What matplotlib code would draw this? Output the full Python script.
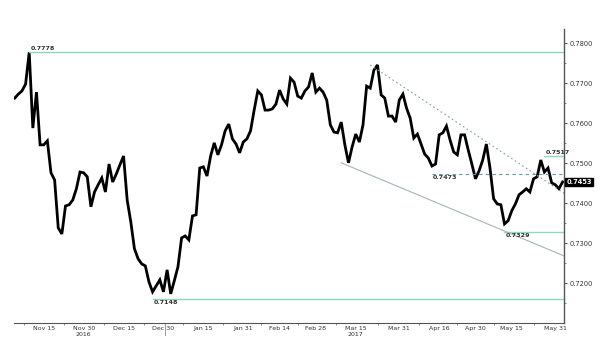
import matplotlib
matplotlib.use("Agg")
import matplotlib.pyplot as plt
import numpy as np
import pandas as pd

# daily closes, by month
nov = [0.7663, 0.7673, 0.7681, 0.7698, 0.7778, 0.7588, 0.7678, 0.7546, 0.7546, 0.7556,
       0.7476, 0.7458, 0.7338, 0.7323, 0.7393, 0.7396, 0.7408, 0.7436, 0.7478, 0.7476]
dec = [0.7466, 0.7391, 0.7428, 0.7446, 0.7463, 0.7428, 0.7498, 0.7453, 0.7473, 0.7496,
       0.7518, 0.7408, 0.7353, 0.7286, 0.7261, 0.7248, 0.7243, 0.7203, 0.7178, 0.7193,
       0.7208, 0.7178]
jan = [0.7233, 0.7173, 0.7206, 0.7241, 0.7313, 0.7318, 0.7308, 0.7368, 0.7371, 0.7488,
       0.7491, 0.7468, 0.7518, 0.7551, 0.7521, 0.7546, 0.7581, 0.7598, 0.7561, 0.7548,
       0.7526, 0.7553]
feb = [0.7561, 0.7581, 0.7633, 0.7681, 0.7671, 0.7633, 0.7633, 0.7636, 0.7648, 0.7683,
       0.7661, 0.7648, 0.7713, 0.7703, 0.7668, 0.7663, 0.7681, 0.7691, 0.7726, 0.7678]
mar = [0.7688, 0.7678, 0.7658, 0.7596, 0.7578, 0.7576, 0.7603, 0.7546, 0.7501, 0.7541,
       0.7573, 0.7553, 0.7596, 0.7693, 0.7688, 0.7733, 0.7746, 0.7671, 0.7663, 0.7618,
       0.7618, 0.7603, 0.7658]
apr = [0.7673, 0.7638, 0.7613, 0.7563, 0.7573, 0.7548, 0.7523, 0.7513, 0.7493, 0.7498,
       0.7571, 0.7576, 0.7593, 0.7558, 0.7528, 0.7521, 0.7571, 0.7571, 0.7533, 0.7498]
may = [0.7461, 0.7481, 0.7508, 0.7548, 0.7488, 0.7411, 0.7398, 0.7396, 0.7348, 0.7356,
       0.7381, 0.7398, 0.7421, 0.7428, 0.7436, 0.7428, 0.7461, 0.7466, 0.7508, 0.7478,
       0.7488, 0.7451, 0.7446]
jun = [0.7436, 0.7453]

closes = nov + dec + jan + feb + mar + apr + may + jun
dates = pd.bdate_range("2016-11-03", periods=len(closes))

tick_dates = ["2016-11-15", "2016-11-30", "2016-12-15", "2016-12-30", "2017-01-15",
              "2017-01-31", "2017-02-14", "2017-02-28", "2017-03-15", "2017-03-31",
              "2017-04-16", "2017-04-30", "2017-05-15", "2017-05-31"]
tick_labels = ["Nov 15", "Nov 30\n2016", "Dec 15", "Dec 30", "Jan 15", "Jan 31", "Feb 14",
               "Feb 28", "Mar 15\n2017", "Mar 31", "Apr 16", "Apr 30", "May 15", "May 31"]

# levels marked on the chart
levels = {"high": ("2016-11-09", 0.7778), "low": ("2016-12-27", 0.7160),
          "mid": ("2017-04-13", 0.7473), "top": ("2017-05-26", 0.7517),
          "bottom": ("2017-05-11", 0.7329)}
level_text = {"high": "0.7778", "low": "0.7148", "mid": "0.7473", "top": "0.7517", "bottom": "0.7329"}
upper_trend = [("2017-03-21", 0.7746), ("2017-06-02", 0.7425)]
lower_trend = [("2017-03-09", 0.7501), ("2017-06-02", 0.7268)]
last_price = 0.7453

green = "#8fd8bb"

def pos(d):
    # business-day index of a date (fractional not needed)
    return float(np.searchsorted(dates, pd.Timestamp(d)))

x = np.arange(len(closes))

fig = plt.figure(figsize=(6, 3.52), dpi=100)
ax = fig.add_axes([0.0233, 0.0824, 0.9167, 0.8352])

ax.plot(x, closes, color="black", lw=2.0, solid_joinstyle="miter")

xmax = len(closes) - 0.6
for k, (d, v) in levels.items():
    xs = pos(d)
    if k == "mid":
        ax.plot([xs, xmax], [v, v], color="#5f9e94", lw=0.8, ls=(0, (3, 3)))
    else:
        ax.plot([xs, xmax], [v, v], color=green, lw=1.0)
    above = k in ("high", "top")
    ax.text(xs + 0.3, v + (0.0003 if above else -0.0003), level_text[k], fontsize=4.6,
            fontweight="bold", color="#333333", ha="left", va="bottom" if above else "top")

(d0, v0), (d1, v1) = upper_trend
ax.plot([pos(d0), pos(d1) + 0.4], [v0, v1], color="#8a9c9c", lw=0.8, ls=(0, (1.5, 2.5)))
(d0, v0), (d1, v1) = lower_trend
ax.plot([pos(d0), pos(d1) + 0.4], [v0, v1], color="#a5b4bb", lw=0.8)

ax.set_xlim(-0.2, xmax)
ax.set_ylim(0.7100, 0.7836)

# y axis on the right
ax.yaxis.tick_right()
ax.set_yticks([0.72, 0.73, 0.74, 0.75, 0.76, 0.77, 0.78])
ax.set_yticklabels(["0.7200", "0.7300", "0.7400", "0.7500", "0.7600", "0.7700", "0.7800"])
ax.set_yticks(np.arange(0.7150, 0.7836, 0.01), minor=True)
ax.tick_params(axis="y", which="major", direction="out", length=2.5, width=0.6,
               labelsize=4.8, pad=1.5, colors="#333333")
ax.tick_params(axis="y", which="minor", direction="out", length=1.5, width=0.5, colors="#555555")

# x axis: labels at dates, marks between them
lab_pos = [pos(d) for d in tick_dates]
ax.set_xticks(lab_pos)
ax.set_xticklabels(tick_labels)
ax.tick_params(axis="x", which="major", length=0, labelsize=4.5, pad=2.5, colors="#333333")
lab_pos = np.array(lab_pos)
marks = list((lab_pos[:-1] + lab_pos[1:]) / 2)
marks = [lab_pos[0] - (lab_pos[1] - lab_pos[0]) / 2] + marks
ax.set_xticks(marks, minor=True)
ax.tick_params(axis="x", which="minor", direction="out", length=1.5, width=0.5, colors="#555555")
year_x = pos("2017-01-01") - 0.5
ax.plot([year_x, year_x], [0.7100, 0.7070], color="#888888", lw=0.6, clip_on=False)

for s in ["left", "top"]:
    ax.spines[s].set_visible(False)
ax.spines["right"].set_color("#555555")
ax.spines["right"].set_linewidth(1.0)
ax.spines["bottom"].set_color("#555555")
ax.spines["bottom"].set_linewidth(0.8)

ax.text(1.004, last_price, "%.4f" % last_price, transform=ax.get_yaxis_transform(),
        fontsize=4.8, color="white", fontweight="bold", ha="left", va="center",
        bbox=dict(boxstyle="square,pad=0.15", fc="black", ec="black"))

fig.savefig("out.png", dpi=100)
